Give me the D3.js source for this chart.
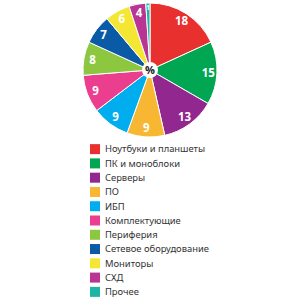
<!DOCTYPE html>
<html>
<head>
<meta charset="utf-8" />
<script src="https://d3js.org/d3.v7.min.js"></script>
<style>
    body { margin: 0; background: #fff; }
    svg { display: block; }
    .lbl { fill: #fff; font-family: "Open Sans", sans-serif; font-weight: bold; font-size: 11.5px; }
    .leg { fill: #333; font-family: "Noto Sans", sans-serif; font-size: 9.4px; }
</style>
</head>
<body>
<svg id="chart" width="300" height="300"></svg>
<script>
    // data
    var categories = ["Ноутбуки и планшеты", "ПК и моноблоки", "Серверы", "ПО", "ИБП",
        "Комплектующие", "Периферия", "Сетевое оборудование", "Мониторы", "СХД", "Прочее"];
    var values = [18, 15, 13, 9, 9, 9, 8, 7, 6, 4, 1];
    var colors = ["#e8312f", "#00a651", "#92278f", "#f8b733", "#00aeef",
        "#ec3e8f", "#8dc63f", "#0b5aa6", "#f3e733", "#b83593", "#1fb5a6"];

    var svg = d3.select("#chart");
    var cx = 150, cy = 70, R = 67;

    var pie = d3.pie().sort(null).value(function(d) { return d; });
    var arcs = pie(values);
    var arc = d3.arc().innerRadius(0).outerRadius(R);
    var labelArc = d3.arc().innerRadius(R * 0.87).outerRadius(R * 0.87);

    var g = svg.append("g").attr("transform", "translate(" + cx + "," + cy + ")");

    g.selectAll("path")
        .data(arcs)
        .enter().append("path")
        .attr("d", arc)
        .attr("fill", function(d, i) { return colors[i]; })
        .attr("stroke", "#fff")
        .attr("stroke-width", 1);

    g.selectAll(".lbl")
        .data(arcs)
        .enter().append("text")
        .attr("class", "lbl")
        .attr("transform", function(d) {
            var c = labelArc.centroid(d);
            if (d.data < 3) c = d3.arc().innerRadius(R * 0.93).outerRadius(R * 0.93).centroid(d);
            return "translate(" + c + ")";
        })
        .attr("text-anchor", "middle")
        .attr("dy", "0.36em")
        .style("font-size", function(d) { return d.data < 3 ? "7px" : null; })
        .text(function(d) { return d.data; });

    g.append("circle").attr("r", 8).attr("fill", "#fff");
    g.append("text")
        .attr("text-anchor", "middle")
        .attr("dy", "0.36em")
        .attr("font-family", "Open Sans, sans-serif")
        .attr("font-weight", "bold")
        .attr("font-size", "11px")
        .attr("fill", "#222")
        .text("%");

    // legend
    var y = d3.scaleBand().domain(categories).range([142, 299]);

    var legend = svg.append("g");
    legend.selectAll("rect")
        .data(categories)
        .enter().append("rect")
        .attr("x", 90)
        .attr("y", function(d) { return y(d) + (y.bandwidth() - 10) / 2; })
        .attr("width", 10)
        .attr("height", 10)
        .attr("fill", function(d, i) { return colors[i]; });

    legend.selectAll("text")
        .data(categories)
        .enter().append("text")
        .attr("class", "leg")
        .attr("x", 105)
        .attr("y", function(d) { return y(d) + y.bandwidth() / 2; })
        .attr("dy", "0.35em")
        .text(function(d) { return d; });
</script>
</body>
</html>
